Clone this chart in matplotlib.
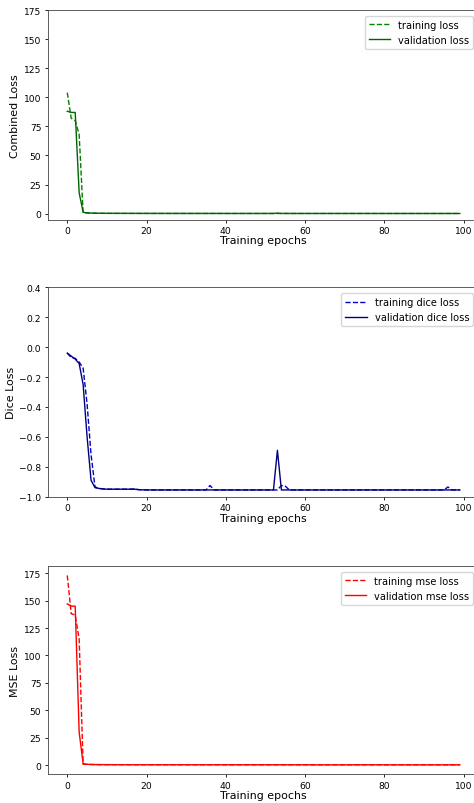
import matplotlib
matplotlib.use("Agg")
import matplotlib.pyplot as plt

epochs = list(range(100))

# combined loss
train_loss = [104.0, 82.0, 80.0, 68.0, 0.9, 0.6, 0.5, 0.4, 0.35, 0.3,
              0.3, 0.28, 0.27, 0.26, 0.25, 0.25, 0.24, 0.24, 0.23, 0.23,
              0.22, 0.22, 0.22, 0.21, 0.21, 0.21, 0.2, 0.2, 0.2, 0.2,
              0.2, 0.2, 0.19, 0.19, 0.19, 0.19, 0.21, 0.19, 0.19, 0.19,
              0.18, 0.18, 0.18, 0.18, 0.18, 0.18, 0.18, 0.18, 0.18, 0.18,
              0.18, 0.18, 0.18, 0.18, 0.2, 0.19, 0.18, 0.18, 0.17, 0.17,
              0.17, 0.17, 0.17, 0.17, 0.17, 0.17, 0.17, 0.17, 0.17, 0.17,
              0.17, 0.17, 0.17, 0.17, 0.17, 0.17, 0.17, 0.17, 0.17, 0.17,
              0.16, 0.16, 0.16, 0.16, 0.16, 0.16, 0.16, 0.16, 0.16, 0.16,
              0.16, 0.16, 0.16, 0.16, 0.16, 0.16, 0.18, 0.16, 0.16, 0.16]
val_loss = [88.0, 87.0, 87.0, 18.0, 1.2, 0.7, 0.5, 0.4, 0.35, 0.32,
            0.3, 0.29, 0.28, 0.27, 0.26, 0.26, 0.25, 0.25, 0.24, 0.24,
            0.23, 0.23, 0.23, 0.22, 0.22, 0.22, 0.21, 0.21, 0.21, 0.21,
            0.21, 0.2, 0.2, 0.2, 0.2, 0.2, 0.2, 0.2, 0.2, 0.2,
            0.19, 0.19, 0.19, 0.19, 0.19, 0.19, 0.19, 0.19, 0.19, 0.19,
            0.19, 0.19, 0.19, 0.45, 0.19, 0.19, 0.19, 0.18, 0.18, 0.18,
            0.18, 0.18, 0.18, 0.18, 0.18, 0.18, 0.18, 0.18, 0.18, 0.18,
            0.18, 0.18, 0.18, 0.18, 0.18, 0.18, 0.18, 0.18, 0.18, 0.18,
            0.17, 0.17, 0.17, 0.17, 0.17, 0.17, 0.17, 0.17, 0.17, 0.17,
            0.17, 0.17, 0.17, 0.17, 0.17, 0.17, 0.17, 0.17, 0.17, 0.17]

# dice loss
train_dice = [-0.04, -0.07, -0.075, -0.10, -0.14, -0.38, -0.72, -0.935, -0.945, -0.948,
              -0.95, -0.95, -0.95, -0.95, -0.95, -0.95, -0.95, -0.948, -0.953, -0.954,
              -0.955, -0.955, -0.955, -0.955, -0.955, -0.955, -0.955, -0.955, -0.955, -0.955,
              -0.955, -0.955, -0.955, -0.955, -0.955, -0.955, -0.925, -0.955, -0.955, -0.955,
              -0.955, -0.955, -0.955, -0.955, -0.955, -0.955, -0.955, -0.955, -0.955, -0.955,
              -0.955, -0.955, -0.955, -0.955, -0.925, -0.93, -0.955, -0.955, -0.955, -0.955,
              -0.955, -0.955, -0.955, -0.955, -0.955, -0.955, -0.955, -0.955, -0.955, -0.955,
              -0.955, -0.955, -0.955, -0.955, -0.955, -0.955, -0.955, -0.955, -0.955, -0.955,
              -0.955, -0.955, -0.955, -0.955, -0.955, -0.955, -0.955, -0.955, -0.955, -0.955,
              -0.955, -0.955, -0.955, -0.955, -0.955, -0.955, -0.935, -0.955, -0.955, -0.955]
val_dice = [-0.04, -0.06, -0.08, -0.11, -0.25, -0.60, -0.89, -0.94, -0.945, -0.948,
            -0.95, -0.95, -0.95, -0.95, -0.95, -0.95, -0.95, -0.95, -0.953, -0.954,
            -0.955, -0.955, -0.955, -0.955, -0.955, -0.955, -0.955, -0.955, -0.955, -0.955,
            -0.955, -0.955, -0.955, -0.955, -0.955, -0.955, -0.955, -0.955, -0.955, -0.955,
            -0.955, -0.955, -0.955, -0.955, -0.955, -0.955, -0.955, -0.955, -0.955, -0.955,
            -0.955, -0.955, -0.955, -0.69, -0.955, -0.955, -0.955, -0.955, -0.955, -0.955,
            -0.955, -0.955, -0.955, -0.955, -0.955, -0.955, -0.955, -0.955, -0.955, -0.955,
            -0.955, -0.955, -0.955, -0.955, -0.955, -0.955, -0.955, -0.955, -0.955, -0.955,
            -0.955, -0.955, -0.955, -0.955, -0.955, -0.955, -0.955, -0.955, -0.955, -0.955,
            -0.955, -0.955, -0.955, -0.955, -0.955, -0.955, -0.955, -0.955, -0.955, -0.955]

# mse loss
train_mse = [173.0, 138.0, 137.0, 115.0, 0.8, 0.6, 0.5, 0.45, 0.4, 0.38,
             0.36, 0.35, 0.34, 0.33, 0.32, 0.32, 0.31, 0.31, 0.3, 0.3,
             0.3, 0.29, 0.29, 0.29, 0.28, 0.28, 0.28, 0.28, 0.27, 0.27,
             0.27, 0.27, 0.27, 0.26, 0.26, 0.26, 0.26, 0.26, 0.26, 0.26,
             0.25, 0.25, 0.25, 0.25, 0.25, 0.25, 0.25, 0.25, 0.25, 0.25,
             0.24, 0.24, 0.24, 0.24, 0.24, 0.24, 0.24, 0.24, 0.24, 0.24,
             0.24, 0.24, 0.23, 0.23, 0.23, 0.23, 0.23, 0.23, 0.23, 0.23,
             0.23, 0.23, 0.23, 0.23, 0.23, 0.23, 0.23, 0.23, 0.23, 0.23,
             0.22, 0.22, 0.22, 0.22, 0.22, 0.22, 0.22, 0.22, 0.22, 0.22,
             0.22, 0.22, 0.22, 0.22, 0.22, 0.22, 0.22, 0.22, 0.22, 0.22]
val_mse = [147.0, 145.0, 145.0, 30.0, 1.2, 0.7, 0.55, 0.48, 0.43, 0.4,
           0.38, 0.37, 0.36, 0.35, 0.34, 0.34, 0.33, 0.33, 0.32, 0.32,
           0.32, 0.31, 0.31, 0.31, 0.3, 0.3, 0.3, 0.3, 0.29, 0.29,
           0.29, 0.29, 0.29, 0.28, 0.28, 0.28, 0.28, 0.28, 0.28, 0.28,
           0.27, 0.27, 0.27, 0.27, 0.27, 0.27, 0.27, 0.27, 0.27, 0.27,
           0.26, 0.26, 0.26, 0.26, 0.26, 0.26, 0.26, 0.26, 0.26, 0.26,
           0.26, 0.26, 0.25, 0.25, 0.25, 0.25, 0.25, 0.25, 0.25, 0.25,
           0.25, 0.25, 0.25, 0.25, 0.25, 0.25, 0.25, 0.25, 0.25, 0.25,
           0.24, 0.24, 0.24, 0.24, 0.24, 0.24, 0.24, 0.24, 0.24, 0.24,
           0.24, 0.24, 0.24, 0.24, 0.24, 0.24, 0.24, 0.24, 0.24, 0.24]

fig = plt.figure(figsize=(4.74, 8.04), dpi=100)

# axes run a bit past the right edge, like the cropped original
left, width = 0.1005, 0.911
ax1 = fig.add_axes([left, 0.7257, width, 0.2606])
ax2 = fig.add_axes([left, 0.3810, width, 0.2604])
ax3 = fig.add_axes([left, 0.0357, width, 0.2591])

lw = 1.0
lab_fs = 7.9
ax1.plot(epochs, train_loss, '--', color='green', lw=lw, label='training loss')
ax1.plot(epochs, val_loss, '-', color='darkgreen', lw=lw, label='validation loss')
ax1.set_ylim(top=175)
ax1.set_ylabel('Combined Loss', fontsize=lab_fs, labelpad=3)

ax2.plot(epochs, train_dice, '--', color='mediumblue', lw=lw, label='training dice loss')
ax2.plot(epochs, val_dice, '-', color='navy', lw=lw, label='validation dice loss')
ax2.set_ylim(-1.0, 0.4)
ax2.set_ylabel('Dice Loss', fontsize=lab_fs, labelpad=2)

ax3.plot(epochs, train_mse, '--', color='red', lw=lw, label='training mse loss')
ax3.plot(epochs, val_mse, '-', color='red', lw=lw, label='validation mse loss')
ax3.set_ylabel('MSE Loss', fontsize=lab_fs, labelpad=3)

for ax in (ax1, ax2, ax3):
    ax.set_xlabel('Training epochs', fontsize=lab_fs, labelpad=0.5)
    ax.tick_params(labelsize=6.6, length=2.5, width=0.6, pad=2)
    ax.set_xticks([0, 20, 40, 60, 80, 100])
    for s in ax.spines.values():
        s.set_linewidth(0.6)
        s.set_color('#444444')
    ax.legend(loc='upper right', fontsize=7.1, handlelength=2.2,
              borderaxespad=0, bbox_to_anchor=(0.986, 0.972))

fig.savefig('out.png', dpi=100)
